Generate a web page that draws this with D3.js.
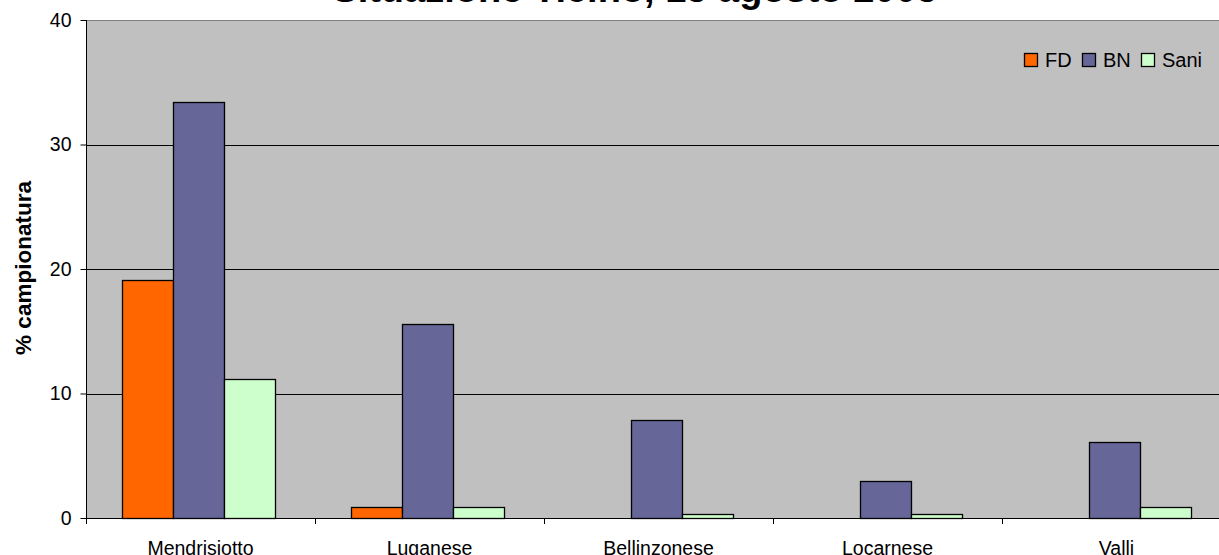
<!DOCTYPE html>
<html>
<head>
<meta charset="utf-8">
<script src="https://cdn.jsdelivr.net/npm/d3@7"></script>
<style>
  html, body { margin: 0; padding: 0; background: #fff; }
  svg { display: block; }
  text { font-family: Arial, "Liberation Sans", sans-serif; }
</style>
</head>
<body>
<svg id="chart" width="1219" height="555"></svg>
<script>
const titleText = "Situazione Ticino, 15 agosto 2005";
const yAxisTitle = "% campionatura";
const categories = ["Mendrisiotto", "Luganese", "Bellinzonese", "Locarnese", "Valli"];
const seriesNames = ["FD", "BN", "Sani"];
const seriesColors = ["#FF6600", "#666699", "#CCFFCC"];
const fdValues = [19.1, 0.86, 0, 0, 0];
const bnValues = [33.4, 15.6, 7.85, 2.97, 6.1];
const saniValues = [11.2, 0.86, 0.35, 0.35, 0.86];
const yTicks = [0, 10, 20, 30, 40];

const seriesValues = [fdValues, bnValues, saniValues];
const svg = d3.select("#chart");
const plot = { left: 86, top: 20, right: 1231, bottom: 518 };
const FONT = "Arial, 'Liberation Sans', sans-serif";

const x = d3.scaleBand().domain(categories).range([plot.left, plot.right]).paddingInner(0).paddingOuter(0);
const xs = d3.scaleBand().domain(seriesNames).range([36, 189]).paddingInner(0).paddingOuter(0);
const y = d3.scaleLinear().domain([0, 40]).range([plot.bottom, plot.top]);

// plot background
svg.append("rect")
  .attr("x", plot.left + 0.5).attr("y", plot.top + 0.5)
  .attr("width", plot.right - plot.left).attr("height", plot.bottom - plot.top)
  .attr("fill", "#C0C0C0").attr("stroke", "#808080").attr("stroke-width", 1);

// gridlines
svg.append("g").selectAll("line").data(yTicks.filter(d => d > 0 && d < 40)).join("line")
  .attr("x1", plot.left).attr("x2", plot.right)
  .attr("y1", d => Math.round(y(d)) + 0.5).attr("y2", d => Math.round(y(d)) + 0.5)
  .attr("stroke", "#000").attr("stroke-width", 1);

// bars
const rows = [];
categories.forEach((c, i) => seriesNames.forEach((s, j) => rows.push({ c, s, v: seriesValues[j][i], color: seriesColors[j] })));
svg.append("g").selectAll("rect").data(rows.filter(d => d.v > 0)).join("rect")
  .attr("x", d => Math.round(x(d.c) + xs(d.s)) + 0.5)
  .attr("y", d => Math.round(y(d.v)) + 0.5)
  .attr("width", Math.round(xs.bandwidth()))
  .attr("height", d => Math.round(y(0)) - Math.round(y(d.v)))
  .attr("fill", d => d.color)
  .attr("stroke", "#000").attr("stroke-width", 1.3);

// y axis
const yAxis = d3.axisLeft(y).tickValues(yTicks).tickSize(6).tickPadding(9).tickFormat(d3.format("d"));
const gy = svg.append("g").attr("transform", `translate(${plot.left + 0.5},0)`).call(yAxis);
gy.select(".domain").attr("stroke", "#000").attr("d", `M0,${y(40)}V${y(0)}`);
gy.selectAll(".tick line").attr("stroke", "#000");
gy.selectAll(".tick text").attr("font-size", 19.5).attr("fill", "#000").attr("font-family", FONT);

// x axis
const xAxis = d3.axisBottom(x).tickSize(0).tickPadding(0);
const gx = svg.append("g").attr("transform", `translate(0,${plot.bottom + 0.5})`).call(xAxis);
gx.select(".domain").attr("stroke", "#000").attr("d", `M${plot.left},0H${plot.right}`);
gx.selectAll(".tick text").attr("font-size", 19.5).attr("fill", "#000").attr("font-family", FONT)
  .attr("dy", null).attr("y", 36);
// category separator ticks
svg.append("g").selectAll("line").data(categories).join("line")
  .attr("x1", d => Math.round(x(d)) + 0.5).attr("x2", d => Math.round(x(d)) + 0.5)
  .attr("y1", plot.bottom).attr("y2", plot.bottom + 6)
  .attr("stroke", "#000");

// y axis title
svg.append("text")
  .attr("transform", `translate(31,${(plot.top + plot.bottom) / 2 - 1}) rotate(-90)`)
  .attr("text-anchor", "middle")
  .attr("font-size", 22.5).attr("font-weight", "bold")
  .text(yAxisTitle);

// title (mostly cut off at top, as in the reference)
svg.append("text")
  .attr("x", 635).attr("y", 2)
  .attr("text-anchor", "middle")
  .attr("font-size", 38).attr("font-weight", "bold")
  .text(titleText);

// legend
const legend = svg.append("g");
const legX = [1024, 1082, 1141];
seriesNames.forEach((s, i) => {
  legend.append("rect").attr("x", legX[i] + 0.5).attr("y", 53.5).attr("width", 13).attr("height", 13)
    .attr("fill", seriesColors[i]).attr("stroke", "#000").attr("stroke-width", 1.3);
  legend.append("text").attr("x", legX[i] + 21).attr("y", 67)
    .attr("font-size", 20).text(s);
});
</script>
</body>
</html>
